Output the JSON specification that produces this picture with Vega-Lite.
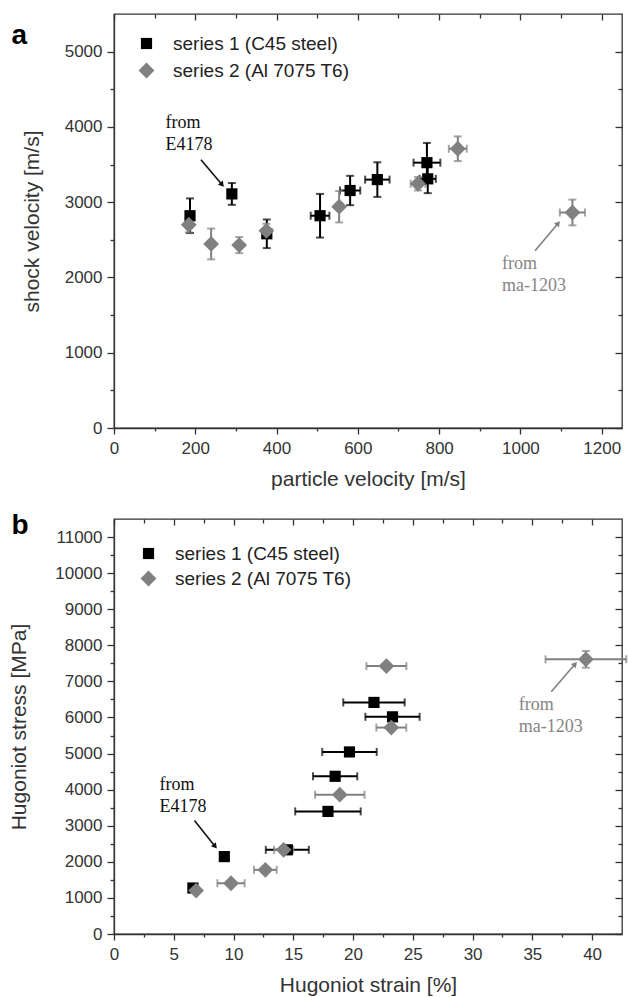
{
  "$schema": "https://vega.github.io/schema/vega-lite/v6.json",
  "padding": {"left": 7, "top": 12, "right": 4, "bottom": 4},
  "spacing": 20,
  "datasets": {
    "topPts": [
      {"series": "series 1 (C45 steel)", "x": 187, "y": 2820, "ex": 0, "ey": 230},
      {"series": "series 1 (C45 steel)", "x": 290, "y": 3110, "ex": 0, "ey": 145},
      {"series": "series 1 (C45 steel)", "x": 376, "y": 2580, "ex": 0, "ey": 190},
      {"series": "series 1 (C45 steel)", "x": 507, "y": 2820, "ex": 23, "ey": 290},
      {"series": "series 1 (C45 steel)", "x": 581, "y": 3155, "ex": 25, "ey": 195},
      {"series": "series 1 (C45 steel)", "x": 648, "y": 3300, "ex": 30, "ey": 230},
      {"series": "series 1 (C45 steel)", "x": 770, "y": 3525, "ex": 33, "ey": 262},
      {"series": "series 1 (C45 steel)", "x": 772, "y": 3310, "ex": 20, "ey": 190},
      {"series": "series 2 (Al 7075 T6)", "x": 184, "y": 2700, "ex": 0, "ey": 100},
      {"series": "series 2 (Al 7075 T6)", "x": 239, "y": 2445, "ex": 0, "ey": 205},
      {"series": "series 2 (Al 7075 T6)", "x": 308, "y": 2430, "ex": 0, "ey": 107},
      {"series": "series 2 (Al 7075 T6)", "x": 375, "y": 2620, "ex": 0, "ey": 93},
      {"series": "series 2 (Al 7075 T6)", "x": 554, "y": 2940, "ex": 0, "ey": 209},
      {"series": "series 2 (Al 7075 T6)", "x": 748, "y": 3245, "ex": 18, "ey": 89},
      {"series": "series 2 (Al 7075 T6)", "x": 846, "y": 3710, "ex": 22, "ey": 164},
      {"series": "series 2 (Al 7075 T6)", "x": 1128, "y": 2863, "ex": 31, "ey": 171}
    ],
    "topTxt": [
      {"src": "E4178", "t": "from", "x": 127, "y": 3983},
      {"src": "E4178", "t": "E4178", "x": 127, "y": 3689},
      {"src": "ma-1203", "t": "from", "x": 955, "y": 2116},
      {"src": "ma-1203", "t": "ma-1203", "x": 955, "y": 1823}
    ],
    "topArr": [
      {"src": "E4178", "x": 214, "y": 3565, "x2": 266, "y2": 3232},
      {"src": "ma-1203", "x": 1036, "y": 2356, "x2": 1093, "y2": 2720}
    ],
    "botPts": [
      {"series": "series 1 (C45 steel)", "x": 6.6, "y": 1275, "ex": 0.32, "ey": 0},
      {"series": "series 1 (C45 steel)", "x": 9.23, "y": 2145, "ex": 0.27, "ey": 0},
      {"series": "series 1 (C45 steel)", "x": 14.5, "y": 2333, "ex": 1.8, "ey": 0},
      {"series": "series 1 (C45 steel)", "x": 17.9, "y": 3397, "ex": 2.74, "ey": 0},
      {"series": "series 1 (C45 steel)", "x": 18.5, "y": 4370, "ex": 1.85, "ey": 0},
      {"series": "series 1 (C45 steel)", "x": 19.7, "y": 5045, "ex": 2.28, "ey": 0},
      {"series": "series 1 (C45 steel)", "x": 21.75, "y": 6417, "ex": 2.57, "ey": 0},
      {"series": "series 1 (C45 steel)", "x": 23.3, "y": 6018, "ex": 2.27, "ey": 0},
      {"series": "series 2 (Al 7075 T6)", "x": 6.87, "y": 1203, "ex": 0, "ey": 0},
      {"series": "series 2 (Al 7075 T6)", "x": 9.79, "y": 1406, "ex": 1.14, "ey": 0},
      {"series": "series 2 (Al 7075 T6)", "x": 12.66, "y": 1777, "ex": 0.95, "ey": 0},
      {"series": "series 2 (Al 7075 T6)", "x": 14.19, "y": 2333, "ex": 0.8, "ey": 0},
      {"series": "series 2 (Al 7075 T6)", "x": 18.89, "y": 3860, "ex": 2.07, "ey": 0},
      {"series": "series 2 (Al 7075 T6)", "x": 23.2, "y": 5721, "ex": 1.25, "ey": 0},
      {"series": "series 2 (Al 7075 T6)", "x": 22.79, "y": 7425, "ex": 1.67, "ey": 0},
      {"series": "series 2 (Al 7075 T6)", "x": 39.48, "y": 7611, "ex": 3.38, "ey": 231}
    ],
    "botTxt": [
      {"src": "E4178", "t": "from", "x": 3.81, "y": 3981},
      {"src": "E4178", "t": "E4178", "x": 3.81, "y": 3378},
      {"src": "ma-1203", "t": "from", "x": 33.86, "y": 6203},
      {"src": "ma-1203", "t": "ma-1203", "x": 33.86, "y": 5600}
    ],
    "botArr": [
      {"src": "E4178", "x": 6.73, "y": 3147, "x2": 8.46, "y2": 2425},
      {"src": "ma-1203", "x": 36.58, "y": 6711, "x2": 38.58, "y2": 7481}
    ]
  },
  "vconcat": [
    {
      "width": 508,
      "height": 414,
      "layer": [
        {
          "data": {"name": "topPts"},
          "transform": [{"filter": "datum.series === 'series 1 (C45 steel)' && datum.ey > 0"}],
          "mark": {"type": "errorbar", "color": "#000000", "thickness": 2, "ticks": {"size": 8, "thickness": 2}},
          "encoding": {
            "x": {"field": "x", "type": "quantitative", "scale": {"domain": [0, 1250], "nice": false, "zero": false}, "axis": null},
            "y": {"field": "y", "type": "quantitative", "scale": {"domain": [0, 5500], "nice": false, "zero": false}, "axis": null},
            "yError": {"field": "ey"}
          }
        },
        {
          "data": {"name": "topPts"},
          "transform": [{"filter": "datum.series === 'series 1 (C45 steel)' && datum.ex > 0"}],
          "mark": {"type": "errorbar", "color": "#000000", "thickness": 2, "ticks": {"size": 8, "thickness": 2}},
          "encoding": {
            "x": {"field": "x", "type": "quantitative", "axis": null},
            "y": {"field": "y", "type": "quantitative", "axis": null},
            "xError": {"field": "ex"}
          }
        },
        {
          "data": {"name": "topPts"},
          "transform": [{"filter": "datum.series === 'series 2 (Al 7075 T6)' && datum.ey > 0"}],
          "mark": {"type": "errorbar", "color": "#808080", "thickness": 2, "ticks": {"size": 8, "thickness": 2}},
          "encoding": {
            "x": {"field": "x", "type": "quantitative", "axis": null},
            "y": {"field": "y", "type": "quantitative", "axis": null},
            "yError": {"field": "ey"}
          }
        },
        {
          "data": {"name": "topPts"},
          "transform": [{"filter": "datum.series === 'series 2 (Al 7075 T6)' && datum.ex > 0"}],
          "mark": {"type": "errorbar", "color": "#808080", "thickness": 2, "ticks": {"size": 8, "thickness": 2}},
          "encoding": {
            "x": {"field": "x", "type": "quantitative", "axis": null},
            "y": {"field": "y", "type": "quantitative", "axis": null},
            "xError": {"field": "ex"}
          }
        },
        {
          "data": {"name": "topPts"},
          "mark": {"type": "point", "filled": true, "opacity": 1, "strokeWidth": 0},
          "encoding": {
            "x": {"field": "x", "type": "quantitative", "axis": {"values": [0, 100, 200, 300, 400, 500, 600, 700, 800, 900, 1000, 1100, 1200], "format": "d", "labelExpr": "datum.value % 200 === 0 ? datum.label : ''", "tickSize": {"condition": {"test": "datum.value % 200 === 0", "value": 6}, "value": 3}, "labelFlush": false, "labelOverlap": false, "labelPadding": 6, "title": "particle velocity [m/s]", "titlePadding": 12}},
            "y": {"field": "y", "type": "quantitative", "axis": {"values": [0, 500, 1000, 1500, 2000, 2500, 3000, 3500, 4000, 4500, 5000], "format": "d", "labelExpr": "datum.value % 1000 === 0 ? datum.label : ''", "tickSize": {"condition": {"test": "datum.value % 1000 === 0", "value": 7}, "value": 4}, "labelFlush": false, "labelOverlap": false, "labelPadding": 5, "title": "shock velocity [m/s]", "titleX": -82, "titleBaseline": "middle"}},
            "shape": {"field": "series", "type": "nominal", "scale": {"domain": ["series 1 (C45 steel)", "series 2 (Al 7075 T6)"], "range": ["square", "diamond"]}, "legend": {"title": null, "orient": "none", "legendX": 23, "legendY": 20, "padding": 0, "labelOffset": 17, "rowPadding": 7}},
            "color": {"field": "series", "type": "nominal", "scale": {"domain": ["series 1 (C45 steel)", "series 2 (Al 7075 T6)"], "range": ["#000000", "#808080"]}, "legend": {"title": null, "orient": "none", "legendX": 23, "legendY": 20, "padding": 0, "labelOffset": 17, "rowPadding": 7}},
            "size": {"field": "series", "type": "nominal", "scale": {"domain": ["series 1 (C45 steel)", "series 2 (Al 7075 T6)"], "range": [125, 250]}, "legend": {"title": null, "orient": "none", "legendX": 23, "legendY": 20, "padding": 0, "labelOffset": 17, "rowPadding": 7}}
          }
        },
        {
          "data": {"name": "topArr"},
          "mark": {"type": "rule", "strokeWidth": 1.6},
          "encoding": {
            "x": {"field": "x", "type": "quantitative", "axis": {"orient": "top", "values": [0, 100, 200, 300, 400, 500, 600, 700, 800, 900, 1000, 1100, 1200], "labels": false, "domain": false, "tickSize": {"condition": {"test": "datum.value % 200 === 0", "value": -6}, "value": -4}, "title": "a", "titleX": -103, "titleY": 29, "titleAngle": 0, "titleAlign": "left", "titleBaseline": "alphabetic", "titleFontSize": 28, "titleFontWeight": "bold", "titleColor": "#000000"}},
            "y": {"field": "y", "type": "quantitative", "axis": {"orient": "right", "values": [0, 500, 1000, 1500, 2000, 2500, 3000, 3500, 4000, 4500, 5000], "labels": false, "domain": false, "title": null, "tickSize": {"condition": {"test": "datum.value % 1000 === 0", "value": -7}, "value": -4}}},
            "x2": {"field": "x2"},
            "y2": {"field": "y2"},
            "color": {"condition": {"test": "datum.src === 'E4178'", "value": "#111111"}, "value": "#808080"}
          }
        },
        {
          "data": {"name": "topArr"},
          "mark": {"type": "point", "shape": "triangle-up", "filled": true, "size": 40, "opacity": 1, "strokeWidth": 0},
          "encoding": {
            "x": {"field": "x2", "type": "quantitative", "axis": null},
            "y": {"field": "y2", "type": "quantitative", "axis": null},
            "angle": {"condition": {"test": "datum.src === 'E4178'", "value": 140}, "value": 40},
            "color": {"condition": {"test": "datum.src === 'E4178'", "value": "#111111"}, "value": "#808080"}
          }
        },
        {
          "data": {"name": "topTxt"},
          "mark": {"type": "text", "align": "left", "baseline": "alphabetic", "font": "Liberation Serif", "fontSize": 18},
          "encoding": {
            "x": {"field": "x", "type": "quantitative", "axis": null},
            "y": {"field": "y", "type": "quantitative", "axis": null},
            "text": {"field": "t"},
            "color": {"condition": {"test": "datum.src === 'E4178'", "value": "#111111"}, "value": "#858585"}
          }
        }
      ],
      "resolve": {"axis": {"x": "independent", "y": "independent"}}
    },
    {
      "width": 508,
      "height": 415,
      "layer": [
        {
          "data": {"name": "botPts"},
          "transform": [{"filter": "datum.series === 'series 1 (C45 steel)' && datum.ey > 0"}],
          "mark": {"type": "errorbar", "color": "#000000", "thickness": 2, "ticks": {"size": 8, "thickness": 2}},
          "encoding": {
            "x": {"field": "x", "type": "quantitative", "scale": {"domain": [0, 42.5], "nice": false, "zero": false}, "axis": null},
            "y": {"field": "y", "type": "quantitative", "scale": {"domain": [0, 11500], "nice": false, "zero": false}, "axis": null},
            "yError": {"field": "ey"}
          }
        },
        {
          "data": {"name": "botPts"},
          "transform": [{"filter": "datum.series === 'series 1 (C45 steel)' && datum.ex > 0"}],
          "mark": {"type": "errorbar", "color": "#000000", "thickness": 2, "ticks": {"size": 8, "thickness": 2}},
          "encoding": {
            "x": {"field": "x", "type": "quantitative", "axis": null},
            "y": {"field": "y", "type": "quantitative", "axis": null},
            "xError": {"field": "ex"}
          }
        },
        {
          "data": {"name": "botPts"},
          "transform": [{"filter": "datum.series === 'series 2 (Al 7075 T6)' && datum.ey > 0"}],
          "mark": {"type": "errorbar", "color": "#808080", "thickness": 2, "ticks": {"size": 8, "thickness": 2}},
          "encoding": {
            "x": {"field": "x", "type": "quantitative", "axis": null},
            "y": {"field": "y", "type": "quantitative", "axis": null},
            "yError": {"field": "ey"}
          }
        },
        {
          "data": {"name": "botPts"},
          "transform": [{"filter": "datum.series === 'series 2 (Al 7075 T6)' && datum.ex > 0"}],
          "mark": {"type": "errorbar", "color": "#808080", "thickness": 2, "ticks": {"size": 8, "thickness": 2}},
          "encoding": {
            "x": {"field": "x", "type": "quantitative", "axis": null},
            "y": {"field": "y", "type": "quantitative", "axis": null},
            "xError": {"field": "ex"}
          }
        },
        {
          "data": {"name": "botPts"},
          "mark": {"type": "point", "filled": true, "opacity": 1, "strokeWidth": 0},
          "encoding": {
            "x": {"field": "x", "type": "quantitative", "axis": {"values": [0, 2.5, 5, 7.5, 10, 12.5, 15, 17.5, 20, 22.5, 25, 27.5, 30, 32.5, 35, 37.5, 40], "format": "d", "labelExpr": "datum.value % 5 === 0 ? datum.label : ''", "tickSize": {"condition": {"test": "datum.value % 5 === 0", "value": 6}, "value": 3}, "labelFlush": false, "labelOverlap": false, "labelPadding": 6, "title": "Hugoniot strain [%]", "titlePadding": 12}},
            "y": {"field": "y", "type": "quantitative", "axis": {"values": [0, 500, 1000, 1500, 2000, 2500, 3000, 3500, 4000, 4500, 5000, 5500, 6000, 6500, 7000, 7500, 8000, 8500, 9000, 9500, 10000, 10500, 11000], "format": "d", "labelExpr": "datum.value % 1000 === 0 ? datum.label : ''", "tickSize": {"condition": {"test": "datum.value % 1000 === 0", "value": 7}, "value": 4}, "labelFlush": false, "labelOverlap": false, "labelPadding": 5, "title": "Hugoniot stress [MPa]", "titleX": -95, "titleBaseline": "middle"}},
            "shape": {"field": "series", "type": "nominal", "scale": {"domain": ["series 1 (C45 steel)", "series 2 (Al 7075 T6)"], "range": ["square", "diamond"]}, "legend": {"title": null, "orient": "none", "legendX": 25, "legendY": 25, "padding": 0, "labelOffset": 17, "rowPadding": 5}},
            "color": {"field": "series", "type": "nominal", "scale": {"domain": ["series 1 (C45 steel)", "series 2 (Al 7075 T6)"], "range": ["#000000", "#808080"]}, "legend": {"title": null, "orient": "none", "legendX": 25, "legendY": 25, "padding": 0, "labelOffset": 17, "rowPadding": 5}},
            "size": {"field": "series", "type": "nominal", "scale": {"domain": ["series 1 (C45 steel)", "series 2 (Al 7075 T6)"], "range": [125, 250]}, "legend": {"title": null, "orient": "none", "legendX": 25, "legendY": 25, "padding": 0, "labelOffset": 17, "rowPadding": 5}}
          }
        },
        {
          "data": {"name": "botArr"},
          "mark": {"type": "rule", "strokeWidth": 1.6},
          "encoding": {
            "x": {"field": "x", "type": "quantitative", "axis": {"orient": "top", "values": [0, 2.5, 5, 7.5, 10, 12.5, 15, 17.5, 20, 22.5, 25, 27.5, 30, 32.5, 35, 37.5, 40], "labels": false, "domain": false, "tickSize": {"condition": {"test": "datum.value % 5 === 0", "value": -6}, "value": -4}, "title": "b", "titleX": -103, "titleY": 14, "titleAngle": 0, "titleAlign": "left", "titleBaseline": "alphabetic", "titleFontSize": 28, "titleFontWeight": "bold", "titleColor": "#000000"}},
            "y": {"field": "y", "type": "quantitative", "axis": {"orient": "right", "values": [0, 500, 1000, 1500, 2000, 2500, 3000, 3500, 4000, 4500, 5000, 5500, 6000, 6500, 7000, 7500, 8000, 8500, 9000, 9500, 10000, 10500, 11000], "labels": false, "domain": false, "title": null, "tickSize": {"condition": {"test": "datum.value % 1000 === 0", "value": -7}, "value": -4}}},
            "x2": {"field": "x2"},
            "y2": {"field": "y2"},
            "color": {"condition": {"test": "datum.src === 'E4178'", "value": "#111111"}, "value": "#808080"}
          }
        },
        {
          "data": {"name": "botArr"},
          "mark": {"type": "point", "shape": "triangle-up", "filled": true, "size": 40, "opacity": 1, "strokeWidth": 0},
          "encoding": {
            "x": {"field": "x2", "type": "quantitative", "axis": null},
            "y": {"field": "y2", "type": "quantitative", "axis": null},
            "angle": {"condition": {"test": "datum.src === 'E4178'", "value": 141}, "value": 41},
            "color": {"condition": {"test": "datum.src === 'E4178'", "value": "#111111"}, "value": "#808080"}
          }
        },
        {
          "data": {"name": "botTxt"},
          "mark": {"type": "text", "align": "left", "baseline": "alphabetic", "font": "Liberation Serif", "fontSize": 18},
          "encoding": {
            "x": {"field": "x", "type": "quantitative", "axis": null},
            "y": {"field": "y", "type": "quantitative", "axis": null},
            "text": {"field": "t"},
            "color": {"condition": {"test": "datum.src === 'E4178'", "value": "#111111"}, "value": "#858585"}
          }
        }
      ],
      "resolve": {"axis": {"x": "independent", "y": "independent"}}
    }
  ],
  "resolve": {
    "scale": {"x": "independent", "y": "independent", "color": "independent", "shape": "independent", "size": "independent"},
    "legend": {"color": "independent", "shape": "independent", "size": "independent"}
  },
  "config": {
    "background": "#ffffff",
    "view": {"stroke": "#333333", "strokeWidth": 1.3},
    "axis": {"grid": false, "domainColor": "#333333", "domainWidth": 1.3, "tickColor": "#333333", "tickWidth": 1.3, "labelColor": "#333333", "labelFont": "Liberation Sans", "labelFontSize": 17, "titleFont": "Liberation Sans", "titleFontSize": 21, "titleFontWeight": "normal", "titleColor": "#333333"},
    "legend": {"labelFont": "Liberation Sans", "labelFontSize": 19, "labelColor": "#222222", "symbolOpacity": 1, "symbolStrokeWidth": 0, "labelLimit": 400}
  }
}
